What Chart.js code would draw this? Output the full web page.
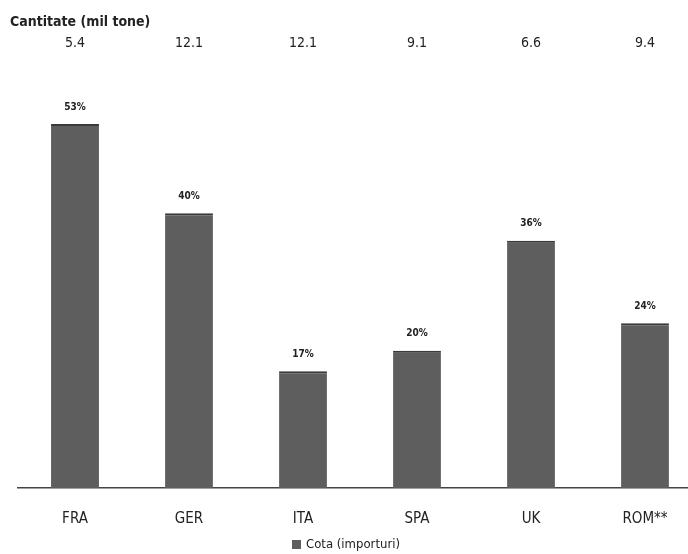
<!DOCTYPE html>
<html>
<head>
<meta charset="utf-8">
<script src="https://cdn.jsdelivr.net/npm/chart.js@4"></script>
<style>
  html, body { margin: 0; padding: 0; background: #fff; overflow: hidden; }
  #wrap { width: 702px; height: 554px; }
</style>
</head>
<body>
<div id="wrap"><canvas id="chart" width="702" height="554"></canvas></div>
<script>
// date
const tari = ['FRA', 'GER', 'ITA', 'SPA', 'UK', 'ROM**'];
const cota = [53, 40, 17, 20, 36, 24];
const cantitate = ['5.4', '12.1', '12.1', '9.1', '6.6', '9.4'];
const titluCantitate = 'Cantitate (mil tone)';
const numeSerie = 'Cota (importuri)';

const FONT = '"DejaVu Sans Condensed", "Liberation Sans", sans-serif';
const CULOARE = '#5e5e5e';

// etichete: cantitate sus, procent deasupra barelor, legenda jos
const etichete = {
  id: 'etichete',
  afterDatasetsDraw(chart) {
    const ctx = chart.ctx;
    const xs = chart.scales.x;
    ctx.save();
    ctx.fillStyle = '#222';
    ctx.font = 'bold 14px ' + FONT;
    ctx.textAlign = 'left';
    ctx.textBaseline = 'middle';
    ctx.fillText(titluCantitate, 10, 22);
    ctx.font = '14px ' + FONT;
    ctx.textAlign = 'center';
    cantitate.forEach((q, i) => {
      ctx.fillText(q, xs.getPixelForValue(i), 43);
    });
    ctx.font = 'bold 10px ' + FONT;
    ctx.textBaseline = 'bottom';
    chart.getDatasetMeta(0).data.forEach((bar, i) => {
      ctx.fillText(cota[i] + '%', bar.x, bar.y - 12);
    });
    // legenda
    ctx.font = '13px ' + FONT;
    ctx.textAlign = 'left';
    ctx.textBaseline = 'middle';
    const w = ctx.measureText(numeSerie).width;
    const x0 = 346 - (w + 14) / 2;
    ctx.fillStyle = CULOARE;
    ctx.fillRect(x0, 540, 9, 9);
    ctx.fillStyle = '#222';
    ctx.fillText(numeSerie, x0 + 14, 545);
    ctx.restore();
  }
};

new Chart(document.getElementById('chart'), {
  type: 'bar',
  data: {
    labels: tari,
    datasets: [{
      label: numeSerie,
      data: cota,
      backgroundColor: CULOARE,
      borderColor: '#3a3a3a',
      borderWidth: { top: 2, left: 0, right: 0, bottom: 0 },
      borderSkipped: false,
      barPercentage: 0.84,
      categoryPercentage: 0.5
    }]
  },
  options: {
    responsive: false,
    animation: false,
    layout: { padding: { top: 76, left: 18, right: 0, bottom: 12 } },
    scales: {
      x: {
        grid: { display: false, drawTicks: true },
        border: { display: true, color: '#444', width: 1.5 },
        ticks: { color: '#222', font: { family: FONT, size: 15 }, padding: 14 }
      },
      y: { display: false, min: 0, max: 60 }
    },
    plugins: {
      legend: { display: false },
      tooltip: { enabled: false }
    }
  },
  plugins: [etichete]
});
</script>
</body>
</html>
